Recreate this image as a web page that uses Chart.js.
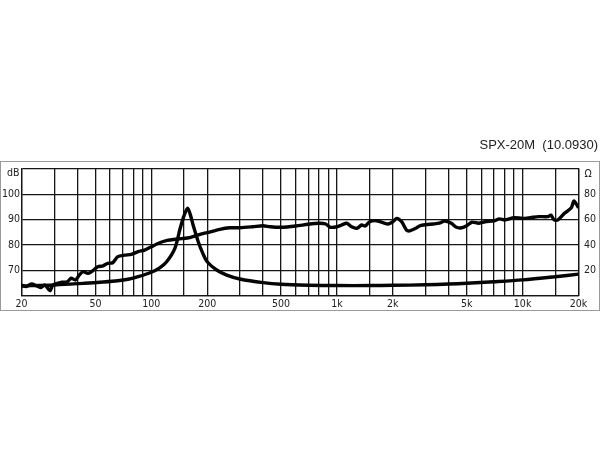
<!DOCTYPE html>
<html><head><meta charset="utf-8">
<script src="https://cdn.jsdelivr.net/npm/chart.js@4/dist/chart.umd.min.js"></script>
<style>html,body{margin:0;padding:0;background:#fff;}#wrap{position:relative;width:600px;height:450px;}</style>
</head><body><div id="wrap"><canvas id="c" width="600" height="450"></canvas></div>
<script>
// ---- data ----
const splFreq = [20,21.2,22.6,24,25.3,26.7,28.5,29.5,32.8,35.3,37,39.1,41,42.9,45.6,48.5,51.5,55,58.3,62,66,72,78,85,92,100,111,122,132,145,161,183,200,234,265,300,352,400,437,500,600,700,800,870,920,1000,1060,1130,1200,1280,1360,1420,1500,1630,1770,1890,2000,2100,2230,2370,2470,2660,2800,3000,3300,3560,3800,4130,4400,4700,5000,5330,5790,6280,7000,7500,8000,9000,10000,11000,12200,13700,14200,14800,15500,16800,18300,18900,20000];
const splDb = [64.2,63.6,64.6,64.0,63.2,64.2,62.0,64.2,65.3,65.5,66.9,66.2,68.2,69.5,68.8,69.9,71.4,71.8,72.8,73.0,75.4,76.0,76.3,77.4,78.0,79.3,80.9,81.8,82.2,82.5,82.9,84.2,84.9,86.2,86.8,86.8,87.2,87.6,87.2,87.0,87.5,88.2,88.6,88.3,87.0,87.2,87.9,88.6,87.2,86.6,87.9,87.5,89.2,89.6,88.8,88.3,89.2,90.5,89.2,85.9,85.6,86.6,87.6,88.0,88.3,88.6,89.5,88.6,87.0,86.8,87.6,89.0,88.6,89.2,89.5,90.3,89.9,90.8,90.5,90.8,91.2,91.2,91.8,89.9,89.9,92.5,94.7,97.4,94.7];
const impFreq = [20,30,43.6,55,66,75,85,100,111,121,134,143,150,157,163,168,179,190,200,225,255,300,400,500,700,1000,1500,2000,3000,4000,5000,7000,10000,15000,20000];
const impOhm = [7.7,8.5,9.8,10.8,11.8,13,15,18.5,22,26.8,37.4,53,63,69,63,55.8,42.6,33,26.8,20.3,16.3,13.2,10.3,9.0,8.3,8.0,8.0,8.2,8.6,9.2,9.8,11,12.5,15,17];
const gridFreqs = [20,30,40,50,60,70,80,90,100,150,200,300,400,500,600,700,800,900,1000,1500,2000,3000,4000,5000,6000,7000,8000,9000,10000,15000,20000];
const freqTickValues = [20,50,100,200,500,1000,2000,5000,10000,20000];
const freqTickLabels = ['20','50','100','200','500','1k','2k','5k','10k','20k'];
const dbTickLabels = [70,80,90,100];
const ohmTickLabels = [20,40,60,80];
const dbUnit = 'dB';
const ohmUnit = 'Ω';
const chartTitle = 'SPX-20M  (10.0930)';

// ---- drawing ----
const fontFam = "'DejaVu Sans Condensed','Liberation Sans',sans-serif";
const tickFont = {family: fontFam, size: 10.5};
const lineCol = '#050505';
const gridCol = '#161616';
const textCol = '#222';

const framePlugin = {
  id: 'frame',
  afterDraw(chart) {
    const c = chart.ctx;
    const a = chart.chartArea;
    c.save();
    c.strokeStyle = '#9a9a9a';
    c.lineWidth = 1;
    c.strokeRect(0.5, 161.5, 599, 149);
    c.fillStyle = textCol;
    c.font = "13px 'Liberation Sans', Arial, sans-serif";
    c.textAlign = 'right';
    c.textBaseline = 'middle';
    c.fillText(chartTitle, 598, 145);
    c.font = "10.5px " + fontFam;
    c.textAlign = 'right';
    c.fillText(dbUnit, a.left - 2, a.top + 4.5);
    c.textAlign = 'left';
    c.fillText(ohmUnit, a.right + 6, a.top + 5);
    c.restore();
  }
};

new Chart(document.getElementById('c'), {
  type: 'line',
  data: {
    datasets: [
      {label: 'SPL', data: splFreq.map((f, i) => ({x: f, y: splDb[i]})), yAxisID: 'y',
       borderColor: lineCol, borderWidth: 3.4, pointRadius: 0, tension: 0.25, fill: false},
      {label: 'Impedance', data: impFreq.map((f, i) => ({x: f, y: impOhm[i]})), yAxisID: 'y2',
       borderColor: lineCol, borderWidth: 3.4, pointRadius: 0, tension: 0.3, fill: false}
    ]
  },
  options: {
    responsive: false,
    animation: false,
    devicePixelRatio: 1,
    layout: {padding: {top: 169, bottom: 140, left: 0, right: 0}},
    plugins: {legend: {display: false}, tooltip: {enabled: false}},
    scales: {
      x: {
        type: 'logarithmic', min: 20, max: 20000,
        afterBuildTicks: s => { s.ticks = gridFreqs.map(v => ({value: v})); },
        afterFit: s => { s.height = 14.3; },
        ticks: {autoSkip: false, maxRotation: 0, minRotation: 0, padding: 2.5, color: textCol, font: tickFont,
          callback: v => { const k = freqTickValues.indexOf(v); return k >= 0 ? freqTickLabels[k] : ''; }},
        grid: {color: gridCol, lineWidth: 1.3, drawTicks: false},
        border: {color: gridCol, width: 1.3}
      },
      y: {
        position: 'left', min: 60, max: 110,
        afterFit: s => { s.width = 21.5; },
        ticks: {stepSize: 5, padding: 1.5, color: textCol, font: tickFont,
          callback: v => dbTickLabels.includes(v) ? String(v) : ''},
        grid: {color: gridCol, lineWidth: 1.3, drawTicks: false},
        border: {color: gridCol, width: 1.3}
      },
      y2: {
        position: 'right', min: 0, max: 100,
        afterFit: s => { s.width = 21.5; },
        ticks: {stepSize: 10, padding: 5.5, color: textCol, font: tickFont,
          callback: v => ohmTickLabels.includes(v) ? String(v) : ''},
        grid: {display: false, drawTicks: false},
        border: {color: gridCol, width: 1.3}
      }
    }
  },
  plugins: [framePlugin]
});
</script></body></html>
